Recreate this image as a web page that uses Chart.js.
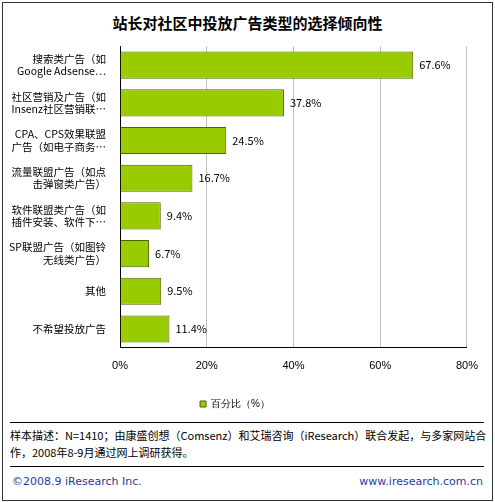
<!DOCTYPE html>
<html><head><meta charset="utf-8">
<script src="https://cdn.jsdelivr.net/npm/chart.js@4/dist/chart.umd.min.js"></script>
<style>
body{margin:0;background:#fff;font-family:"Noto Sans CJK SC",sans-serif;}
#frame{position:absolute;left:2px;top:2px;width:489px;height:497px;border:1px solid #333;}
#title{position:absolute;left:0;top:12px;width:495px;text-align:center;font-size:15px;font-weight:bold;color:#000;}
#wrap{position:absolute;left:2px;top:34px;width:488px;height:385px;}
.line{position:absolute;left:10px;width:474px;border-top:1px solid #000;}
#note{position:absolute;left:10px;top:427px;width:480px;font-size:11px;line-height:17px;color:#000;}
.foot{position:absolute;top:475px;font-size:11px;color:#1f3c9a;font-family:"DejaVu Sans",sans-serif;}
</style></head><body>
<div id="frame"></div>
<div id="title">站长对社区中投放广告类型的选择倾向性</div>
<div id="wrap"><canvas id="c"></canvas></div>
<div class="line" style="top:422px"></div>
<div id="note">样本描述：N=1410；由康盛创想（Comsenz）和艾瑞咨询（iResearch）联合发起，与多家网站合作，2008年8-9月通过网上调研获得。</div>
<div class="line" style="top:466px"></div>
<div class="foot" style="left:12px">©2008.9 iResearch Inc.</div>
<div class="foot" style="right:12px">www.iresearch.com.cn</div>
<script>
const categories = [
  ['搜索类广告（如', 'Google Adsense…'],
  ['社区营销及广告（如', 'Insenz社区营销联…'],
  ['CPA、CPS效果联盟', '广告（如电子商务…'],
  ['流量联盟广告（如点', '击弹窗类广告）'],
  ['软件联盟类广告（如', '插件安装、软件下…'],
  ['SP联盟广告（如图铃', '无线类广告）'],
  '其他',
  '不希望投放广告'
];
const values = [67.6, 37.8, 24.5, 16.7, 9.4, 6.7, 9.5, 11.4];
const seriesName = '百分比（%）';

const valueLabels = {
  id: 'valueLabels',
  afterDatasetsDraw(chart) {
    const ctx = chart.ctx;
    ctx.save();
    ctx.font = '11px "Noto Sans CJK SC", sans-serif';
    ctx.fillStyle = '#000';
    ctx.textBaseline = 'middle';
    chart.getDatasetMeta(0).data.forEach((bar, i) => {
      ctx.fillText(values[i].toFixed(1) + '%', bar.x + 6, bar.y);
    });
    ctx.restore();
  }
};

new Chart(document.getElementById('c'), {
  type: 'bar',
  data: {
    labels: categories,
    datasets: [{
      label: seriesName,
      data: values,
      backgroundColor: '#99cc00',
      borderColor: '#4d6600',
      borderWidth: 1,
      borderSkipped: false,
      barPercentage: 0.72,
      categoryPercentage: 1
    }]
  },
  options: {
    indexAxis: 'y',
    responsive: true,
    maintainAspectRatio: false,
    animation: false,
    layout: { padding: { top: 2, right: 22, left: 0, bottom: 0 } },
    scales: {
      x: {
        min: 0, max: 80,
        ticks: { stepSize: 20, callback: v => v + '%', color: '#000', font: { size: 11 }, padding: 12 },
        grid: { color: '#c0c0c0', drawTicks: false },
        border: { color: '#000' }
      },
      y: {
        afterFit: s => { s.width = 118; },
        ticks: { color: '#000', font: { size: 10.5, family: '"Noto Sans CJK SC", sans-serif' }, padding: 6 },
        grid: { display: false },
        border: { color: '#000' }
      }
    },
    plugins: {
      legend: {
        position: 'bottom',
        labels: { boxWidth: 6, boxHeight: 6, color: '#000', font: { size: 10 }, padding: 14 }
      },
      tooltip: { enabled: false }
    }
  },
  plugins: [valueLabels]
});
</script>
</body></html>
